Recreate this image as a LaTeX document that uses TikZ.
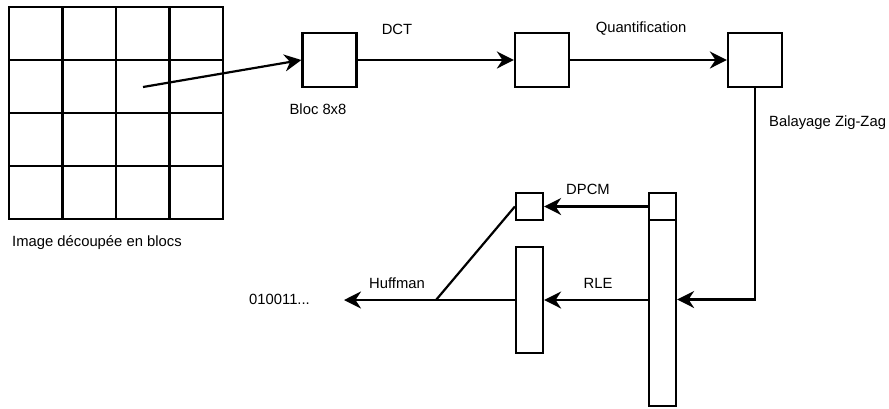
\documentclass[tikz,border=0pt]{standalone}
\usepackage{fontspec}
\setmainfont{Liberation Sans}
\usetikzlibrary{arrows.meta}
\begin{document}
\begin{tikzpicture}[x=1pt,y=-1pt,
  every node/.style={font=\fontsize{14.8}{17}\selectfont},
  box/.style={draw, line width=2.2pt, inner sep=0pt, minimum width=54pt, minimum height=54pt},
  line/.style={line width=2.2pt},
  arr/.style={line width=2.2pt, -{Stealth[length=17pt,width=17pt,inset=5.5pt]}},
  lbl/.style={inner sep=0pt}]
\useasboundingbox (0,0) rectangle (889,408);
% grid
\foreach \i in {0,...,3}{
  \foreach \j in {0,...,3}{
    \draw[line] (9+\i*53.5,7+\j*53) rectangle ++(53.5,53);
  }
}
\coordinate (c) at (143,87);
\node[box] (b1) at (329.5,60) {};
\node[box] (b2) at (542,60) {};
\node[box] (b3) at (755,60) {};
\node[draw, line width=2.2pt, inner sep=0pt, minimum width=27pt, minimum height=213pt] (big) at (662.5,299.5) {};
\draw[line] (649,220) -- (676,220);
\node[draw, line width=2.2pt, inner sep=0pt, minimum width=27pt, minimum height=27pt] (small) at (529.5,206.5) {};
\node[draw, line width=2.2pt, inner sep=0pt, minimum width=27pt, minimum height=106pt] (mid) at (529.5,300) {};
\coordinate (j) at (436,300);
\coordinate (tip) at (344,300);
% arrows
\draw[arr] (c) -- (b1.west);
\draw[arr] (b1.east) -- (b2.west);
\draw[arr] (b2.east) -- (b3.west);
\draw[arr] (b3.south) |- (big.east);
\draw[arr] (big.west |- small.east) -- (small.east);
\draw[arr] (big.west |- mid.east) -- (mid.east);
\draw[line] (small.west) -- (j);
\draw[arr] (mid.west) -- (j) -- (tip);
% labels
\node[lbl] (tdct) at (397,29) {DCT};
\node[lbl] (tq) at (641,29) {Quantification};
\node[lbl] (tb) at (318,109) {Bloc 8x8};
\node[lbl, anchor=west] (tz) at (769,123) {Balayage Zig-Zag};
\node[lbl] (tdp) at (588,189) {DPCM};
\node[lbl] (trle) at (598,283) {RLE};
\node[lbl] (th) at (397,283) {Huffman};
\node[lbl, anchor=west] (ti) at (12,243) {Image découpée en blocs};
\node[lbl, anchor=west] (out) at (249,299) {010011...};
\end{tikzpicture}
\end{document}
